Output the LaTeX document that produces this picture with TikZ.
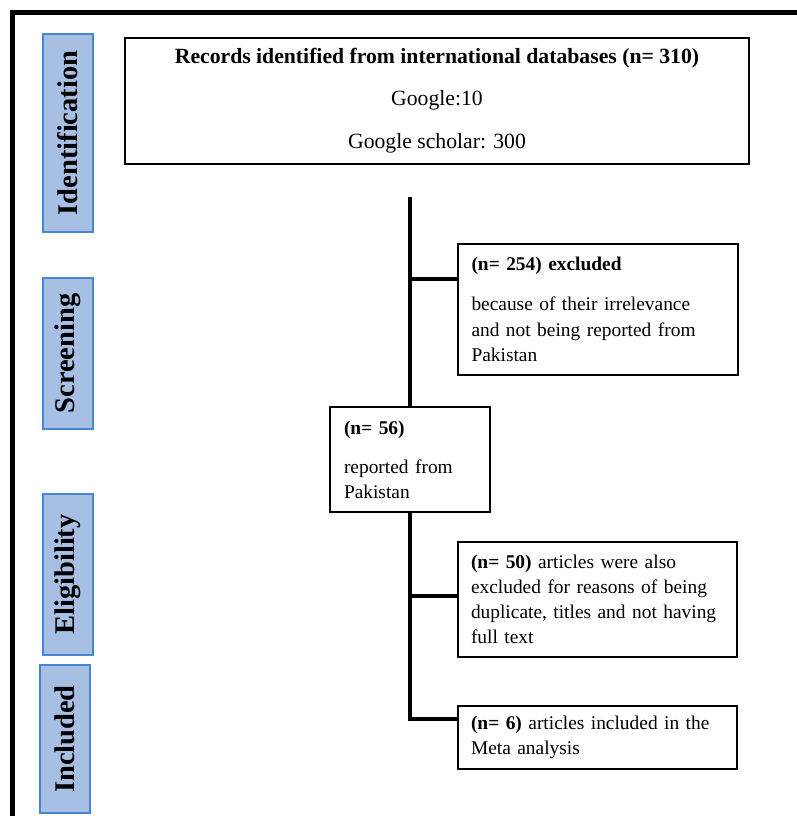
\documentclass[tikz,border=0pt]{standalone}
\usepackage{fontspec}
\setmainfont{Liberation Serif}
\definecolor{stagefill}{RGB}{166,191,227}
\definecolor{stageedge}{RGB}{72,132,212}
\begin{document}
\begin{tikzpicture}[x=1pt,y=-1pt,
  stagebox/.style={draw=stageedge,fill=stagefill,line width=1.2pt,inner sep=0pt},
  stagelabel/.style={rotate=90,font=\fontsize{28.5}{28.5}\selectfont\bfseries},
  flowbox/.style={draw=black,line width=1.6pt,inner sep=0pt,align=left,
    font=\fontsize{19.4}{25.5}\selectfont},
  link/.style={line width=3.5pt}]
\useasboundingbox (0,0) rectangle (797,816);
% frame
\draw[line width=5pt] (12.5,816) -- (12.5,12.5) -- (797,12.5);
% stage labels
\node[stagebox,minimum width=50pt,minimum height=198pt] (sid) at (68,133) {};
\node[stagelabel] (lid) at (sid.center) {Identification};
\node[stagebox,minimum width=50pt,minimum height=151pt] (ssc) at (68,353.5) {};
\node[stagelabel] (lsc) at (ssc.center) {Screening};
\node[stagebox,minimum width=50pt,minimum height=161pt] (sel) at (68,574.5) {};
\node[stagelabel] (lel) at (sel.center) {Eligibility};
\node[stagebox,minimum width=50pt,minimum height=148pt] (sin) at (65,739) {};
\node[stagelabel] (lin) at (sin.center) {Included};
% top box
\node[flowbox,align=center,minimum width=624pt,minimum height=126pt,
  font=\fontsize{21.7}{26}\selectfont] (top) at (437,101)
  {\textbf{Records identified from international databases (n= 310)}\\[16pt]
   Google:10\\[17pt]
   Google scholar: 300};
% excluded 254
\node[flowbox,minimum width=280pt,minimum height=131pt,text width=253pt] (b254) at (598,309.5)
  {\textbf{(n= 254) excluded}\\[14.5pt]
   because of their irrelevance\\
   and not being reported from\\
   Pakistan};
% 56
\node[flowbox,minimum width=160pt,minimum height=105pt,text width=132pt] (b56) at (410,459.5)
  {\textbf{(n= 56)}\\[13.5pt]
   reported from\\[-0.5pt]
   Pakistan};
% excluded 50
\node[flowbox,minimum width=279pt,minimum height=115pt,text width=253pt] (b50) at (597.5,599.5)
  {\textbf{(n= 50)} articles were also\\[-0.3pt]
   excluded for reasons of being\\[-0.3pt]
   duplicate, titles and not having\\[-0.3pt]
   full text};
% included 6
\node[flowbox,minimum width=279pt,minimum height=63pt,text width=253pt] (b6) at (597.5,737.5)
  {\textbf{(n= 6)} articles included in the\\[-1pt]
   Meta analysis};
% connectors
\coordinate (start) at (410,197);
\coordinate (j254) at (410,279);
\coordinate (j50) at (410,596);
\coordinate (j6) at (410,719);
\draw[link] (start) -- (b56.north);
\draw[link] (j254) -- (j254 -| b254.west);
\draw[link] (b56.south) -- (j6) -- (j6 -| b6.west);
\draw[link] (j50) -- (j50 -| b50.west);
\end{tikzpicture}
\end{document}
